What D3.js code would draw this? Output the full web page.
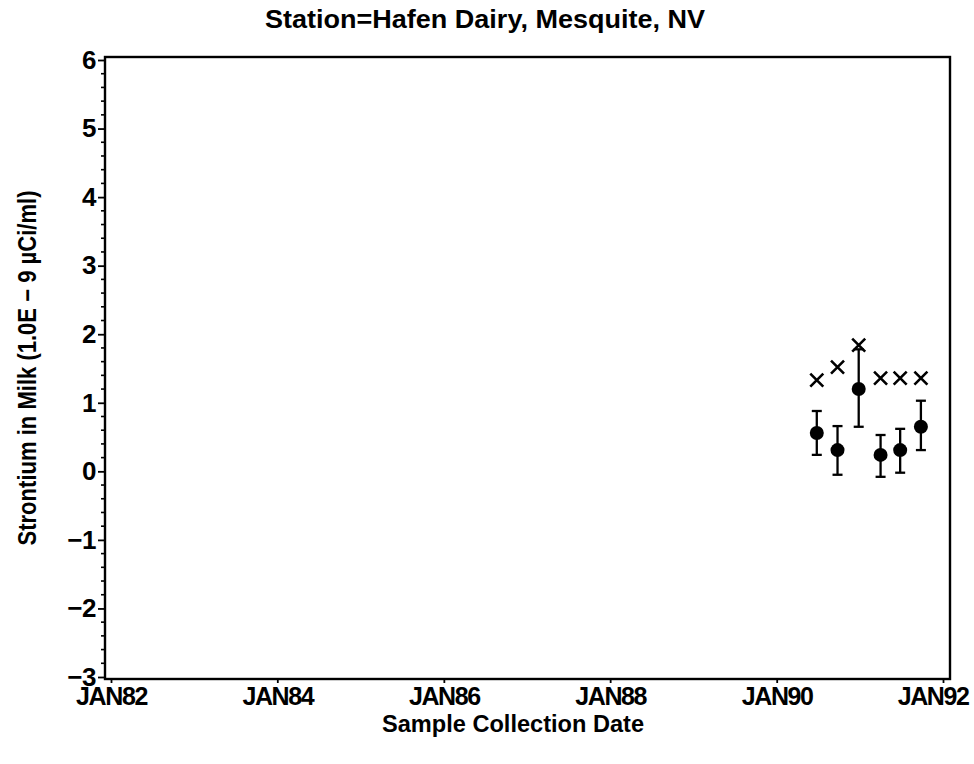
<!DOCTYPE html>
<html>
<head>
<meta charset="utf-8">
<script src="https://cdn.jsdelivr.net/npm/d3@7"></script>
<style>
  html, body { margin: 0; padding: 0; background: #fff; }
  svg { display: block; }
  text { font-family: "Liberation Sans", Arial, Helvetica, sans-serif; fill: #000; font-weight: bold; }
</style>
</head>
<body>
<svg id="chart" width="974" height="764"></svg>
<script>
// ---- data ----
const sampleDates = ["1990-06-26", "1990-09-25", "1990-12-27", "1991-04-02", "1991-06-27", "1991-09-26"];
const meanValues  = [0.56, 0.31, 1.20, 0.24, 0.31, 0.65];
const lowerValues = [0.24, -0.05, 0.65, -0.08, -0.02, 0.31];
const upperValues = [0.88, 0.66, 1.78, 0.53, 0.62, 1.03];
const crossValues = [1.33, 1.52, 1.84, 1.36, 1.36, 1.36];
const xTickYears  = [1982, 1984, 1986, 1988, 1990, 1992];
const yTickValues = [-3, -2, -1, 0, 1, 2, 3, 4, 5, 6];
const titleText = "Station=Hafen Dairy, Mesquite, NV";
const xTitle = "Sample Collection Date";
const yTitle = "Strontium in Milk (1.0E \u2212 9 \u00B5Ci/ml)";

// ---- layout ----
const frame = { left: 105, right: 950, top: 57, bottom: 679 };
const W = 974;
const svg = d3.select("#chart");
const parse = d3.timeParse("%Y-%m-%d");
const rows = sampleDates.map((d, i) => ({
  date: parse(d), mean: meanValues[i], lo: lowerValues[i], hi: upperValues[i], cross: crossValues[i]
}));

const x = d3.scaleTime()
  .domain([new Date(1982, 0, 1), new Date(1992, 0, 1)])
  .range([111, 943]);
const y = d3.scaleLinear().domain([-3, 6]).range([677, 60]);

// frame
svg.append("rect")
  .attr("x", frame.left).attr("y", frame.top)
  .attr("width", frame.right - frame.left).attr("height", frame.bottom - frame.top)
  .attr("fill", "none").attr("stroke", "#000").attr("stroke-width", 2.4);

const labelFont = 25;

// x axis
const xAxis = d3.axisBottom(x)
  .tickValues(xTickYears.map(yr => new Date(yr, 0, 1)))
  .tickSize(4).tickSizeOuter(0)
  .tickFormat(d => "JAN" + d3.timeFormat("%y")(d));
const gx = svg.append("g").attr("transform", `translate(0,${frame.bottom})`).call(xAxis);
gx.select(".domain").remove();
gx.selectAll(".tick line").attr("stroke", "#000").attr("stroke-width", 1.8);
gx.selectAll(".tick text")
  .attr("y", 26).attr("dy", null)
  .style("font-size", labelFont + "px").style("letter-spacing", "-1.4px")
  .each(function() {
    // keep the last label inside the page, as the reference does
    const bb = this.getBBox();
    const tr = d3.select(this.parentNode).attr("transform");
    const tx = +tr.match(/translate\(([-\d.]+)/)[1];
    const over = tx + bb.x + bb.width - (W - 5);
    if (over > 0) d3.select(this).attr("x", -over);
  });

// y axis minor ticks
const minor = d3.range(-3, 6.0001, 0.2).map(v => +v.toFixed(1)).filter(v => !yTickValues.includes(v));
svg.append("g").selectAll("line").data(minor).join("line")
  .attr("x1", frame.left).attr("x2", frame.left - 4)
  .attr("y1", d => y(d)).attr("y2", d => y(d))
  .attr("stroke", "#000").attr("stroke-width", 1.6);

// y axis major
const yAxis = d3.axisLeft(y).tickValues(yTickValues).tickSize(7).tickSizeOuter(0)
  .tickFormat(d => d < 0 ? "\u2212" + Math.abs(d) : String(d));
const gy = svg.append("g").attr("transform", `translate(${frame.left},0)`).call(yAxis);
gy.select(".domain").remove();
gy.selectAll(".tick line").attr("stroke", "#000").attr("stroke-width", 1.8);
gy.selectAll(".tick text")
  .attr("x", -9)
  .style("font-size", "26px").style("letter-spacing", "-0.5px");

// titles
svg.append("text").attr("x", 485).attr("y", 28).attr("text-anchor", "middle")
  .style("font-size", "25px")
  .attr("textLength", 440).attr("lengthAdjust", "spacingAndGlyphs")
  .text(titleText);
svg.append("text").attr("x", 513).attr("y", 732).attr("text-anchor", "middle")
  .style("font-size", "24px")
  .attr("textLength", 262).attr("lengthAdjust", "spacingAndGlyphs")
  .text(xTitle);
svg.append("text").attr("transform", "translate(36,368) rotate(-90)").attr("text-anchor", "middle")
  .style("font-size", "25px")
  .attr("textLength", 355).attr("lengthAdjust", "spacingAndGlyphs")
  .text(yTitle);

// data marks
const marks = svg.append("g");
const cap = 5;
marks.selectAll(".err").data(rows).join("line")
  .attr("x1", d => x(d.date)).attr("x2", d => x(d.date))
  .attr("y1", d => y(d.lo)).attr("y2", d => y(d.hi))
  .attr("stroke", "#000").attr("stroke-width", 2.3);
marks.selectAll(".capHi").data(rows).join("line")
  .attr("x1", d => x(d.date) - cap).attr("x2", d => x(d.date) + cap)
  .attr("y1", d => y(d.hi)).attr("y2", d => y(d.hi))
  .attr("stroke", "#000").attr("stroke-width", 2.3);
marks.selectAll(".capLo").data(rows).join("line")
  .attr("x1", d => x(d.date) - cap).attr("x2", d => x(d.date) + cap)
  .attr("y1", d => y(d.lo)).attr("y2", d => y(d.lo))
  .attr("stroke", "#000").attr("stroke-width", 2.3);
marks.selectAll(".dot").data(rows).join("circle")
  .attr("cx", d => x(d.date)).attr("cy", d => y(d.mean)).attr("r", 7)
  .attr("fill", "#000");
const cs = 6.5;
marks.selectAll(".cross").data(rows).join("path")
  .attr("d", d => {
    const cx = x(d.date), cy = y(d.cross);
    return `M${cx - cs},${cy - cs}L${cx + cs},${cy + cs}M${cx - cs},${cy + cs}L${cx + cs},${cy - cs}`;
  })
  .attr("stroke", "#000").attr("stroke-width", 2.6).attr("fill", "none");
</script>
</body>
</html>
